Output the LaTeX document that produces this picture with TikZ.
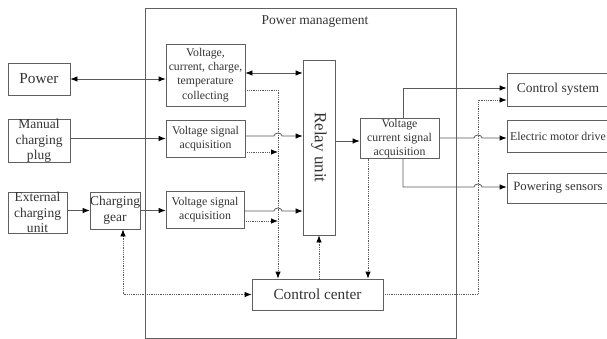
\documentclass[tikz,border=0pt]{standalone}
\usepackage{fontspec}
\setmainfont{Liberation Serif}
\usetikzlibrary{arrows.meta}

\begin{document}
\begin{tikzpicture}[x=1pt, y=-1pt, >={Latex[length=7pt,width=5.5pt,color=black]},
  box/.style={draw=gray!75!black, line width=0.8pt, align=center, inner sep=0pt, text=black!80},
  small/.style={font=\fontsize{11.8}{14.3}\selectfont},
  mid/.style={font=\fontsize{13.5}{15.5}\selectfont},
  big/.style={font=\fontsize{15.3}{18}\selectfont},
  line/.style={draw=gray!70!black, line width=0.8pt},
  ctrl/.style={draw=gray!70!black, line width=0.8pt, densely dotted}]

\useasboundingbox (0,0) rectangle (607,339);
\clip (0,0) rectangle (607,339);

% Power management frame
\node[box, minimum width=311, minimum height=330] (pm) at (300.5,173) {};
\node[mid, text=black!80] (pmtitle) at (315,22) {Power management};

% Sources on the left
\node[box, big, minimum width=62, minimum height=32] (power) at (39,79) {Power};
\node[box, mid, minimum width=62, minimum height=42] (manual) at (39,141) {Manual\\charging\\plug};
\node[box, mid, minimum width=59, minimum height=41] (ext) at (37.5,212.5) {External\\charging\\unit};
\node[box, mid, minimum width=48, minimum height=37] (gear) at (115,210.5) {Charging\\gear};

% Collecting / acquisition blocks
\node[box, small, minimum width=79, minimum height=62] (vcct) at (205.5,75) {Voltage,\\current, charge,\\temperature\\collecting};
\node[box, small, minimum width=79, minimum height=37] (vsa1) at (205.5,138.5) {Voltage signal\\acquisition};
\node[box, small, minimum width=78, minimum height=37] (vsa2) at (205,209.5) {Voltage signal\\acquisition};

% Relay unit and control center
\node[box, minimum width=32, minimum height=175] (relay) at (319,147.5) {};
\node[font=\fontsize{17}{20}\selectfont, text=black!80, rotate=-90] (relaytext) at (relay) {Relay unit};
\node[box, big, minimum width=131, minimum height=31] (cc) at (317.5,294.5) {Control center};
\node[box, small, minimum width=79, minimum height=37] (vcsa) at (399.5,138.5) {Voltage\\current signal\\acquisition};

% Loads on the right
\node[box, mid, minimum width=102, minimum height=33] (csys) at (558,89.5) {Control system};
\node[box, font=\fontsize{11.9}{14}\selectfont, minimum width=102, minimum height=32] (motor) at (558,136) {Electric motor drive};
\node[box, font=\fontsize{12.7}{15}\selectfont, minimum width=102, minimum height=30] (sens) at (558,188) {Powering sensors};

% Dotted buses
\coordinate (vbus) at (278,0);
\coordinate (obus) at (478,0);

% Power lines
\draw[line,<->] (power.east) -- (power.east -| vcct.west);
\draw[line,<->] (vcct.east |- 0,73) -- (relay.west |- 0,73);
\draw[line,->] (manual.east |- vsa1.west) -- (vsa1.west);
\draw[line,->] (vsa1.east |- 0,136) -- (274,136) arc[start angle=180, end angle=360, x radius=4, y radius=3] -- (relay.west |- 0,136);
\draw[line,->] (ext.east |- gear.west) -- (gear.west);
\draw[line,->] (gear.east) -- (vsa2.west |- gear.east);
\draw[line,->] (vsa2.east |- 0,211) -- (274,211) arc[start angle=180, end angle=360, x radius=4, y radius=3] -- (relay.west |- 0,211);
\draw[line,->] (relay.east |- 0,141) -- (vcsa.west |- 0,141);
\draw[line,->] (vcsa.north -| 403,0) |- (csys.west |- 0,88);
\draw[line,->] (vcsa.east |- 0,138) -- (474,138) arc[start angle=180, end angle=360, x radius=4, y radius=3] -- (motor.west |- 0,138);
\draw[line,->] (vcsa.south -| 403,0) -- (403,187) -- (474,187) arc[start angle=180, end angle=360, x radius=4, y radius=3] -- (sens.west |- 0,187);

% Signal lines
\draw[ctrl,->] (vcct.east |- 0,90) -| (vbus |- cc.north);
\draw[ctrl,->] (vsa1.east |- 0,152) -- (vbus |- 0,152);
\draw[ctrl,->] (vsa2.east |- 0,221) -- (vbus |- 0,221);
\draw[ctrl,<->] (cc.west) -| (gear.south -| 123,0);
\draw[ctrl,->] (cc.north -| relay.south) -- (relay.south);
\draw[ctrl,->] (vcsa.south -| 368,0) -- (cc.north -| 368,0);
\draw[ctrl,->] (cc.east) -| (obus |- 0,100) -- (csys.west |- 0,100);

\end{tikzpicture}
\end{document}
